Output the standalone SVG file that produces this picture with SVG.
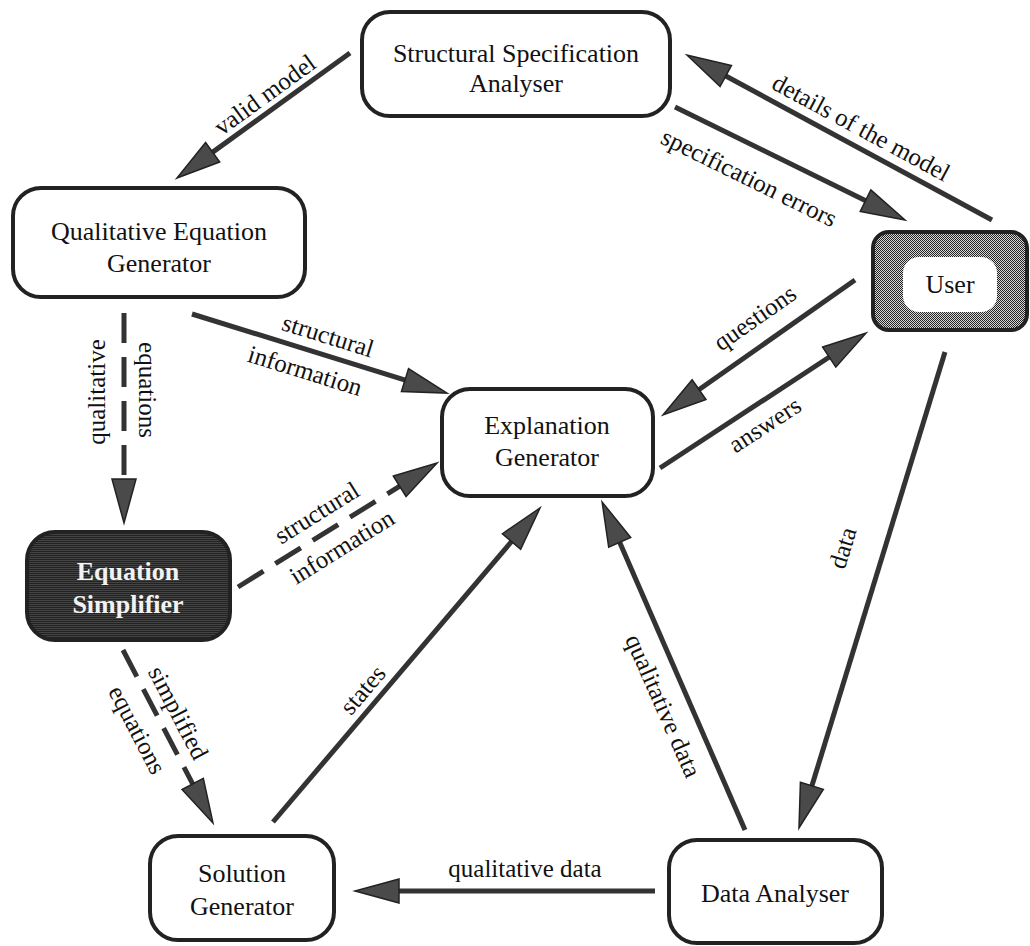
<svg xmlns="http://www.w3.org/2000/svg" width="1030" height="946" viewBox="0 0 1030 946">
<style>
  .node { fill: #ffffff; stroke: #222222; stroke-width: 4; }
  .dark { fill: url(#darkTex); stroke: #222222; stroke-width: 4; }
  .userOuter { fill: url(#checker); stroke: #222222; stroke-width: 4; }
  .userInner { fill: #ffffff; stroke: none; }
  .ntext { font-family: "Liberation Serif", "Times New Roman", serif; font-size: 26px; fill: #111111; text-anchor: middle; }
  .wtext { font-family: "Liberation Serif", "Times New Roman", serif; font-size: 26px; fill: #f2f2f2; text-anchor: middle; font-weight: bold; }
  .label { font-family: "Liberation Serif", "Times New Roman", serif; font-size: 25px; fill: #111111; text-anchor: middle; }
  .edge { fill: none; stroke: #333333; stroke-width: 5; marker-end: url(#head); }
  .dashed { stroke-dasharray: 30 14; }
</style>
<defs>
  <pattern id="checker" width="2" height="2" patternUnits="userSpaceOnUse">
    <rect width="2" height="2" fill="#d8d8d8"/>
    <rect width="1" height="1" fill="#222222"/>
    <rect x="1" y="1" width="1" height="1" fill="#222222"/>
  </pattern>
  <pattern id="darkTex" width="2" height="2" patternUnits="userSpaceOnUse">
    <rect width="2" height="2" fill="#222222"/>
    <rect width="2" height="1" fill="#444444"/>
  </pattern>
  <marker id="head" markerUnits="userSpaceOnUse" viewBox="-4 -14 50 28" markerWidth="50" markerHeight="28" refX="0" refY="0" orient="auto">
    <path d="M-2,-12 L42,0 L-2,12 Z" fill="#4a4a4a" stroke="#222222" stroke-width="1.5" stroke-linejoin="miter"/>
  </marker>
</defs>

<g id="connectors">
  <!-- valid model -->
  <line class="edge" x1="350" y1="53" x2="211" y2="153.4"/>
  <!-- details of the model -->
  <line class="edge" x1="992" y1="220" x2="724" y2="75"/>
  <!-- specification errors -->
  <line class="edge" x1="675" y1="107" x2="867.3" y2="201.5"/>
  <!-- structural information (solid) -->
  <line class="edge" x1="192" y1="314" x2="406.9" y2="380.6"/>
  <!-- structural information (dashed) -->
  <line class="edge dashed" x1="238" y1="587" x2="401.4" y2="485.2"/>
  <!-- qualitative equations -->
  <line class="edge dashed" x1="124" y1="313" x2="124" y2="481"/>
  <!-- simplified equations -->
  <line class="edge dashed" x1="123" y1="650" x2="193.6" y2="785.7"/>
  <!-- states -->
  <line class="edge" x1="273" y1="822" x2="512.8" y2="540"/>
  <!-- questions -->
  <line class="edge" x1="855" y1="280" x2="697.4" y2="390.8"/>
  <!-- answers -->
  <line class="edge" x1="660" y1="468" x2="830.9" y2="356"/>
  <!-- data -->
  <line class="edge" x1="945" y1="352" x2="811.3" y2="787.8"/>
  <!-- qualitative data (diagonal) -->
  <line class="edge" x1="745" y1="830" x2="618.9" y2="540.5"/>
  <!-- qualitative data (horizontal) -->
  <line class="edge" x1="655" y1="891" x2="397" y2="891"/>

  <!-- labels -->
  <text class="label" transform="translate(265,95) rotate(-36)" y="8">valid model</text>
  <text class="label" transform="translate(861,128) rotate(28.4)" y="8">details of the model</text>
  <text class="label" transform="translate(749,178) rotate(26.2)" y="8">specification errors</text>
  <text class="label" transform="translate(328,336) rotate(17.2)" y="8">structural</text>
  <text class="label" transform="translate(305,371) rotate(17.2)" y="8">information</text>
  <text class="label" transform="translate(97,392) rotate(-90)" y="8">qualitative</text>
  <text class="label" transform="translate(147,390) rotate(90)" y="8">equations</text>
  <text class="label" transform="translate(317,513) rotate(-32)" y="8">structural</text>
  <text class="label" transform="translate(342,547) rotate(-32)" y="8">information</text>
  <text class="label" transform="translate(178,713) rotate(62.5)" y="8">simplified</text>
  <text class="label" transform="translate(137,730) rotate(62.5)" y="8">equations</text>
  <text class="label" transform="translate(363,690) rotate(-49.6)" y="8">states</text>
  <text class="label" transform="translate(755,318) rotate(-35)" y="8">questions</text>
  <text class="label" transform="translate(765,425) rotate(-33)" y="8">answers</text>
  <text class="label" transform="translate(843,548) rotate(-73)" y="8">data</text>
  <text class="label" transform="translate(663,706) rotate(66.3)" y="8">qualitative data</text>
  <text class="label" x="525" y="877">qualitative data</text>
</g>

<g id="ssa">
  <rect class="node" x="362" y="12" width="308" height="104" rx="28"/>
  <text class="ntext" x="516" y="62">Structural Specification</text>
  <text class="ntext" x="516" y="92">Analyser</text>
</g>

<g id="qeg">
  <rect class="node" x="13" y="188" width="292" height="109" rx="28"/>
  <text class="ntext" x="159" y="240">Qualitative Equation</text>
  <text class="ntext" x="159" y="272">Generator</text>
</g>

<g id="eg">
  <rect class="node" x="442" y="389" width="211" height="107" rx="28"/>
  <text class="ntext" x="547" y="434">Explanation</text>
  <text class="ntext" x="547" y="466">Generator</text>
</g>

<g id="es">
  <rect class="dark" x="27" y="532" width="203" height="108" rx="28"/>
  <text class="wtext" x="128" y="580">Equation</text>
  <text class="wtext" x="128" y="613">Simplifier</text>
</g>

<g id="user">
  <rect class="userOuter" x="873" y="232" width="154" height="98" rx="16"/>
  <rect class="userInner" x="903" y="257" width="94" height="55" rx="16"/>
  <text class="ntext" x="950" y="293">User</text>
</g>

<g id="sg">
  <rect class="node" x="150" y="836" width="184" height="104" rx="28"/>
  <text class="ntext" x="242" y="882">Solution</text>
  <text class="ntext" x="242" y="915">Generator</text>
</g>

<g id="da">
  <rect class="node" x="669" y="840" width="213" height="103" rx="28"/>
  <text class="ntext" x="775" y="902">Data Analyser</text>
</g>
</svg>
